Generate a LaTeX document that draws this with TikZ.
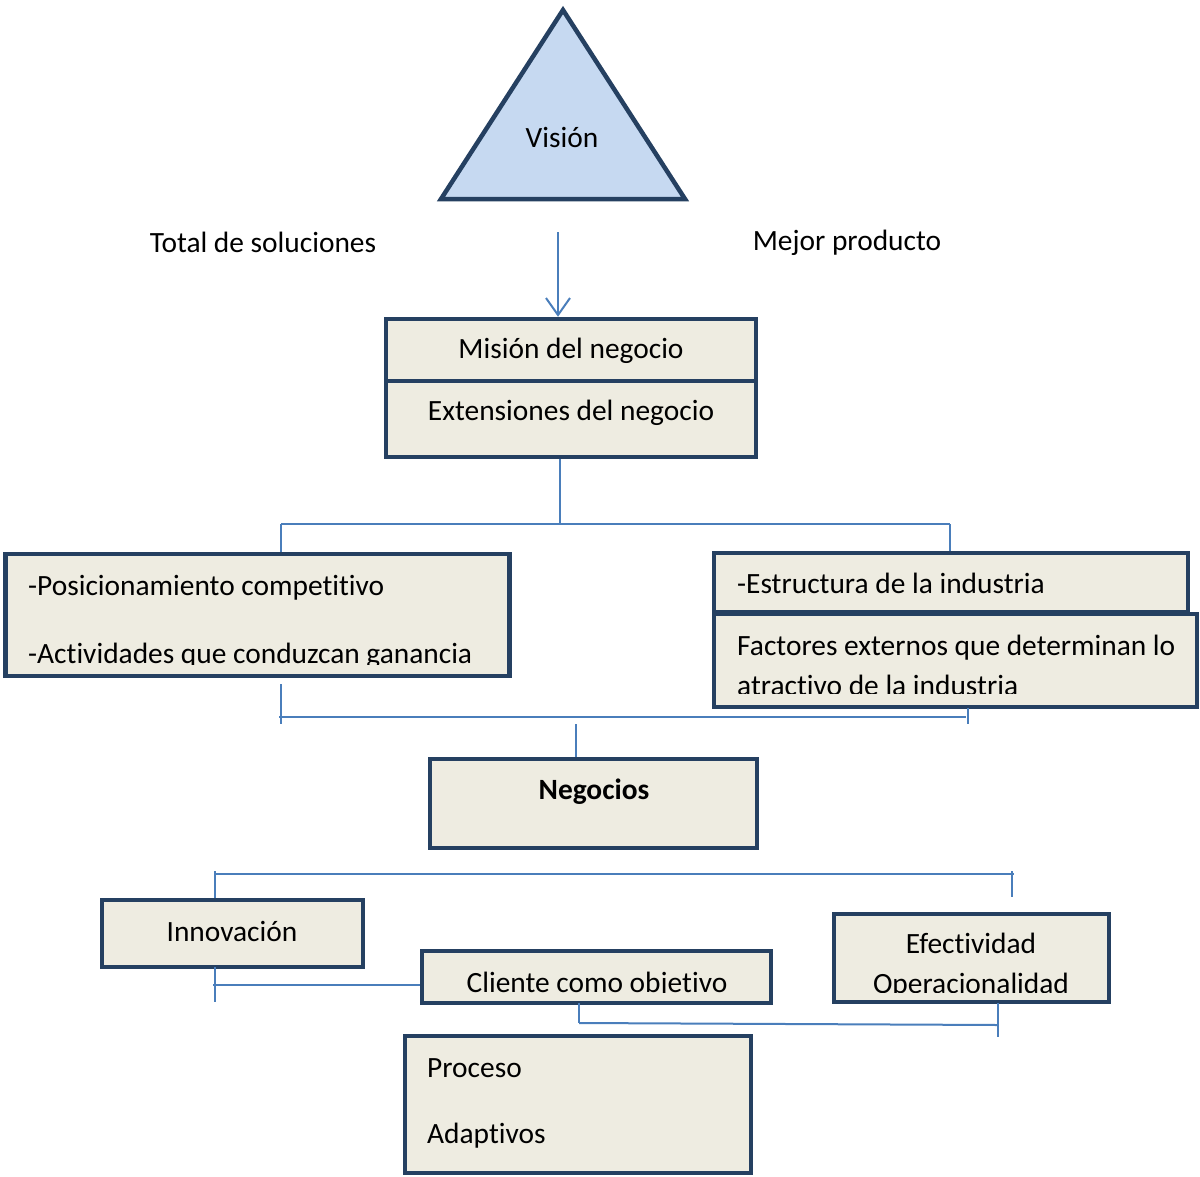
\documentclass[tikz,border=0pt]{standalone}
\usepackage{fontspec}
\setmainfont{Carlito}[Ligatures=NoCommon]
\usetikzlibrary{arrows.meta}

\definecolor{navy}{HTML}{254061}
\definecolor{boxfill}{HTML}{EEECE1}
\definecolor{link}{HTML}{4A7EBB}
\definecolor{trifill}{HTML}{C6D9F1}

\tikzset{
  box/.style={draw=navy, fill=boxfill, line width=4.5pt, inner sep=0pt, rectangle},
  lbl/.style={inner sep=0pt, anchor=base, font=\fontsize{29.4}{35}\selectfont},
  lblw/.style={lbl, anchor=base west},
  conn/.style={draw=link, line width=2pt},
  arrowconn/.style={conn, -{Straight Barb[length=17pt,width=24pt]}},
}

\begin{document}
\begin{tikzpicture}[x=1pt, y=-1pt]
\useasboundingbox (0,0) rectangle (1200,1176);

% vision triangle
\draw[navy, fill=trifill, line width=4.5pt, line join=miter]
  (563,10) -- (685,199) -- (441,199) -- cycle;
\node[lbl] (vision) at (562,147) {Visión};

% side labels
\node[lbl] (total) at (263,252) {Total de soluciones};
\node[lbl] (mejor) at (847,250) {Mejor producto};

% mission block
\node[box, minimum width=370pt, minimum height=62pt] (mision) at (571,350) {};
\node[box, minimum width=370pt, minimum height=76pt] (ext) at (571,419) {};
\node[lbl] (misiont) at (571,358) {Misión del negocio};
\node[lbl] (extt) at (571,420) {Extensiones del negocio};

% second level
\node[box, minimum width=504pt, minimum height=122pt] (pos) at (257.5,615) {};
\node[lblw] (post) at (28,595) {-Posicionamiento competitivo};
\begin{scope}
  \clip (pos.north west) rectangle (pos.east |- 0,664);
  \node[lblw] (actt) at (28,663) {-Actividades que conduzcan ganancia};
\end{scope}

\node[box, minimum width=474pt, minimum height=59pt] (estr) at (951,582.5) {};
\node[lblw] (estrt) at (737,593) {-Estructura de la industria};
\node[box, minimum width=483pt, minimum height=93pt] (fact) at (955.5,660.5) {};
\node[lblw] (factt) at (737,655) {Factores externos que determinan lo};
\begin{scope}
  \clip (fact.north west) rectangle (fact.east |- 0,693);
  \node[lblw] (atrt) at (737,695) {atractivo de la industria};
\end{scope}

% business node
\node[box, minimum width=327pt, minimum height=89pt] (neg) at (593.5,803.5) {};
\node[lbl, font=\fontsize{29.4}{35}\selectfont\bfseries] (negt) at (594,799) {Negocios};

% third level
\node[box, minimum width=261pt, minimum height=67pt] (innov) at (232.5,933.5) {};
\node[lbl] (innovt) at (232,941) {Innovación};

\node[box, minimum width=349pt, minimum height=52pt] (cliente) at (596.5,977) {};
\begin{scope}
  \clip (cliente.north west) rectangle (cliente.east |- 0,992);
  \node[lbl] (clientet) at (597,992) {Cliente como objetivo};
\end{scope}

\node[box, minimum width=275pt, minimum height=88pt] (efect) at (971.5,958) {};
\node[lbl] (efectt) at (971,953) {Efectividad};
\begin{scope}
  \clip (efect.north west) rectangle (efect.east |- 0,992);
  \node[lbl] (opert) at (971,993) {Operacionalidad};
\end{scope}

\node[box, minimum width=346pt, minimum height=137pt] (proc) at (578,1104.5) {};
\node[lblw] (proct) at (427,1077) {Proceso};
\node[lblw] (adapt) at (427,1143) {Adaptivos};

% connectors
\coordinate (atop) at (558,232);
\draw[arrowconn] (atop) -- (mision.north -| atop);

\coordinate (j1) at (560,524);
\coordinate (j1l) at (281,524);
\coordinate (j1r) at (950,524);
\draw[conn] (ext.south -| j1) -- (j1);
\draw[conn] (j1l) -- (j1r);
\draw[conn] (j1l) -- (pos.north -| j1l);
\draw[conn] (j1r) -- (estr.north -| j1r);

\coordinate (l2a) at (281,684);
\coordinate (l2b) at (281,724);
\coordinate (l2h1) at (279,717);
\coordinate (l2h2) at (966,717);
\coordinate (r2a) at (968,708);
\coordinate (r2b) at (968,724);
\coordinate (n2) at (576,724);
\draw[conn] (l2a) -- (l2b);
\draw[conn] (l2h1) -- (l2h2);
\draw[conn] (r2a) -- (r2b);
\draw[conn] (n2) -- (neg.north -| n2);

\coordinate (h3a) at (214,874);
\coordinate (h3b) at (1014,874);
\coordinate (i3) at (215,871);
\coordinate (e3a) at (1012,871);
\coordinate (e3b) at (1012,897);
\draw[conn] (h3a) -- (h3b);
\draw[conn] (i3) -- (innov.north -| i3);
\draw[conn] (e3a) -- (e3b);

\coordinate (i4a) at (215,967);
\coordinate (i4b) at (215,1002);
\coordinate (i4h) at (213,985);
\draw[conn] (i4a) -- (i4b);
\draw[conn] (i4h) -- (cliente.west |- i4h);

\coordinate (c5a) at (579,1003);
\coordinate (c5b) at (579,1023);
\coordinate (c5h) at (998,1025);
\coordinate (e5a) at (998,1003);
\coordinate (e5b) at (998,1037);
\draw[conn] (c5a) -- (c5b);
\draw[conn] (c5b) -- (c5h);
\draw[conn] (e5a) -- (e5b);
\end{tikzpicture}
\end{document}
